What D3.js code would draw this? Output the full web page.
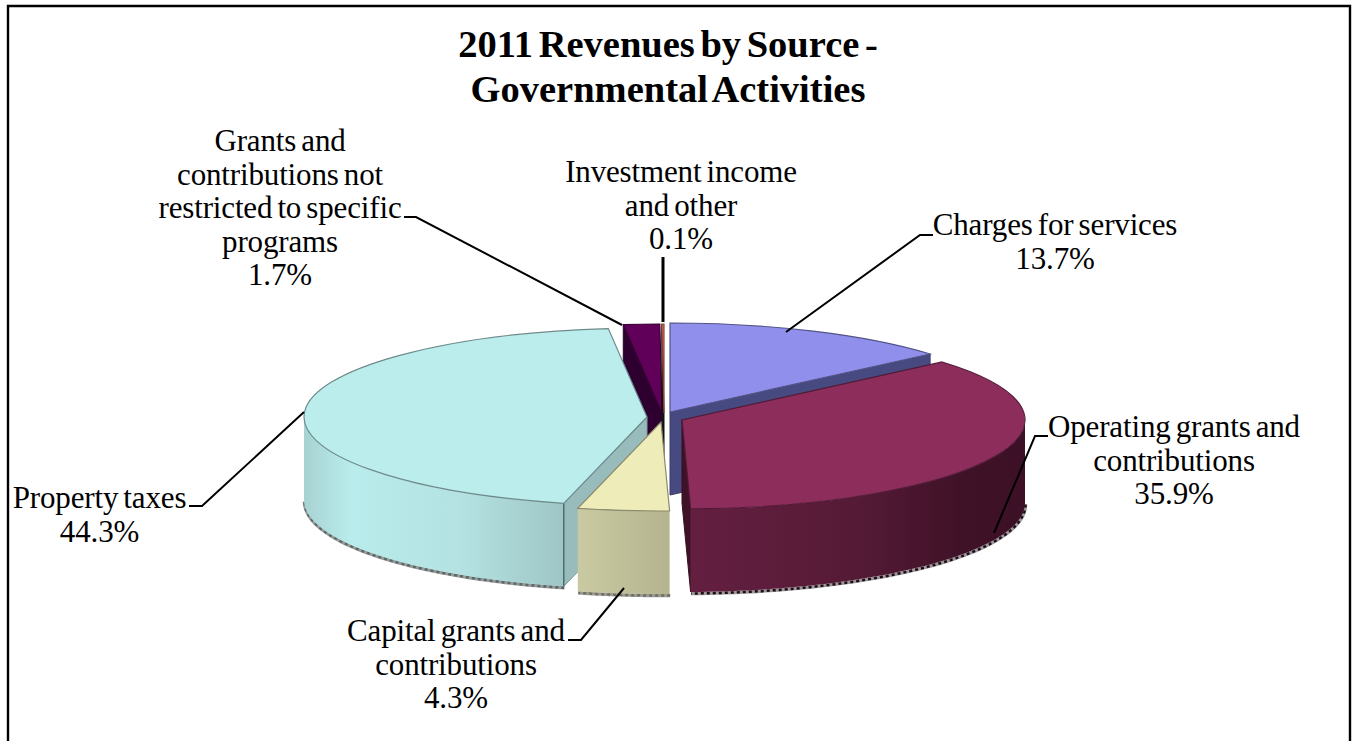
<!DOCTYPE html>
<html><head><meta charset="utf-8">
<script src="https://cdn.jsdelivr.net/npm/d3@7"></script>
<style>html,body{margin:0;background:#fff}svg{display:block}text{font-family:"Liberation Serif",serif;fill:#000}</style>
</head><body><svg id="c" width="1356" height="741"></svg>
<script>
const categories=["Charges for services","Operating grants and contributions","Capital grants and contributions","Property taxes","Grants and contributions not restricted to specific programs","Investment income and other"];
const values=[13.7,35.9,4.3,44.3,1.7,0.1];
const colors=["#9090ec","#8c2d5c","#eeecb8","#bbeded","#600058","#e87060"];
const wallColors=["#474a80","#3f1228","#c8c8a0","#98bcbc","#2e0030","#141414"];
const titleLines=["2011 Revenues by Source -","Governmental Activities"];
const labelLines=[["Charges for services","13.7%"],["Operating grants and","contributions","35.9%"],["Capital grants and","contributions","4.3%"],["Property taxes","44.3%"],["Grants and","contributions not","restricted to specific","programs","1.7%"],["Investment income","and other","0.1%"]];

const RX=343,RY=89,DEPTH=83;
const apexX=[670,682,661,647,662,664],apexY=[412,420,422,417,413,413];
const labelX=[1055,1174,456,99.5,280,681],labelY=[235,437,641,508,151,182];
const leaders=[[[786,332],[920,235],[933,235]],[[994,533],[1035,436],[1048,436]],[[624,588],[581,640],[568,640]],[[304,412],[202,506],[189,506]],[[622,325],[416,217],[404,217]],[[663,322],[663,257]]];

const svg=d3.select("#c");
const frame=d3.path();
frame.moveTo(8,742);frame.lineTo(8,6);frame.lineTo(1350,6);frame.lineTo(1350,742);
svg.append("path").attr("d",frame.toString()).attr("fill","none").attr("stroke","#000").attr("stroke-width",2.4);
const defs=svg.append("defs");
function grad(id,stops){const g=defs.append("linearGradient").attr("id",id);stops.forEach(s=>g.append("stop").attr("offset",s[0]).attr("stop-color",s[1]));}
grad("g1",[[0,"#641f40"],[.5,"#551a36"],[.8,"#401228"],[1,"#3c1026"]]);
grad("g2",[[0,"#c9c9a2"],[1,"#b4b48e"]]);
grad("g3",[[0,"#a8d2d2"],[.18,"#b9ecec"],[.6,"#b4e2e2"],[1,"#9fc6c6"]]);

const arcs=d3.pie().sort(null).value(d=>d)(values);
const arc=d3.arc().innerRadius(0).outerRadius(RX);
const pt=(i,a)=>[apexX[i]+RX*Math.sin(a),apexY[i]-RY*Math.cos(a)];
const line=d3.line();
const g=svg.append("g");
[4,5,0,1,3,2].forEach(i=>{
  const a=arcs[i],s=g.append("g");
  const c=[apexX[i],apexY[i]];
  const walls=[];
  if(Math.sin(a.startAngle)<0)walls.push(a.startAngle);
  if(Math.sin(a.endAngle)>0)walls.push(a.endAngle);
  walls.forEach(t=>{
    const p=pt(i,t);
    s.append("path").attr("d",line([c,p,[p[0],p[1]+DEPTH],[c[0],c[1]+DEPTH]])+"Z")
     .attr("fill",wallColors[i]).attr("stroke",d3.color(wallColors[i]).darker(.5)).attr("stroke-width",1);
  });
  const lo=Math.max(a.startAngle,Math.PI/2),hi=Math.min(a.endAngle,Math.PI*1.5);
  if(hi>lo){
    const ts=d3.range(0,61).map(k=>lo+(hi-lo)*k/60);
    const top=ts.map(t=>pt(i,t)),bot=ts.map(t=>{const p=pt(i,t);return [p[0],p[1]+DEPTH];});
    const edge=line(bot.map(p=>[p[0]+.5,p[1]+1.5]));
    s.append("path").attr("d",edge).attr("fill","none").attr("stroke","#9a9a9a").attr("stroke-width",3.5);
    s.append("path").attr("d",edge).attr("fill","none").attr("stroke",d3.color(wallColors[i]).darker(1.6)).attr("stroke-width",2.5).attr("stroke-dasharray","3 3");
    s.append("path").attr("d",line(top.concat(bot.slice().reverse()))+"Z").attr("fill",`url(#g${i})`);
    const e=[pt(i,lo),pt(i,hi)];
    if(i===3)s.append("path").attr("d",line([e[0],[e[0][0],e[0][1]+DEPTH]])).attr("stroke","#2f4c4c").attr("stroke-width",1);
  }
  s.append("path").attr("transform",`translate(${c[0]},${c[1]}) scale(1,${RY/RX})`)
   .attr("d",arc(a)).attr("fill",colors[i])
   .attr("stroke",d3.color(colors[i]).darker(1.5)).attr("stroke-width",1.2).attr("vector-effect","non-scaling-stroke");
});
leaders.forEach((l,i)=>svg.append("path").attr("d",line(l)).attr("fill","none").attr("stroke","#000").attr("stroke-width",i===5?3:2));
svg.append("text").attr("text-anchor","middle").attr("font-size",38.5).attr("font-weight","bold").attr("word-spacing",-4)
 .selectAll("tspan").data(titleLines).join("tspan").attr("x",668).attr("y",(d,i)=>57+i*44.5).text(d=>d);
labelLines.forEach((ls,i)=>{
  svg.append("text").attr("text-anchor","middle").attr("font-size",31).attr("letter-spacing",-0.15).attr("word-spacing",-2.5)
   .selectAll("tspan").data(ls).join("tspan").attr("x",labelX[i]).attr("y",(d,k)=>labelY[i]+k*33.5).text(d=>d);
});
</script></body></html>
